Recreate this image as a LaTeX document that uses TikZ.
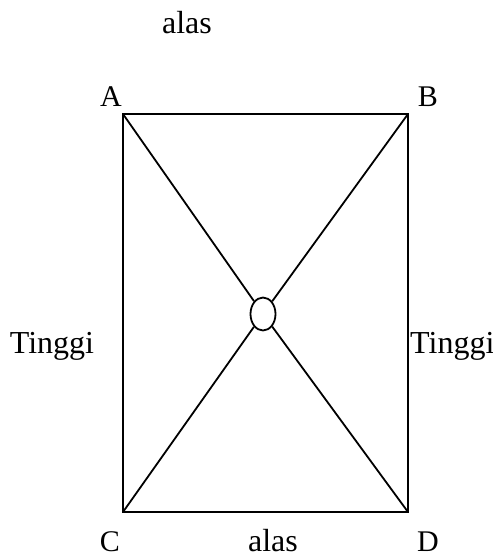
\documentclass[tikz,border=0pt]{standalone}
\usepackage{fontspec}
\setmainfont{Liberation Serif}
\usetikzlibrary{shapes.geometric}
\begin{document}
\begin{tikzpicture}[x=1pt,y=-1pt,
  edge/.style={line width=1.8pt},
  lbl/.style={font=\fontsize{30}{30}\selectfont, anchor=base, inner sep=0pt},
  txt/.style={font=\fontsize{32}{32}\selectfont, anchor=base, inner sep=0pt}]
\useasboundingbox (0,0) rectangle (493,558);
\coordinate (A) at (123,114);
\coordinate (B) at (408,114);
\coordinate (C) at (123,512);
\coordinate (D) at (408,512);
\node[ellipse, draw, line width=1.8pt, fill=white, inner sep=0pt, minimum width=25pt, minimum height=33pt] (O) at (263,314) {};
\draw[edge] (A) -- (B) -- (D) -- (C) -- cycle;
\draw[edge] (A) -- (O);
\draw[edge] (B) -- (O);
\draw[edge] (C) -- (O);
\draw[edge] (D) -- (O);
\node[txt] (t1) at (187,33) {alas};
\node[lbl] (la) at (111,106) {A};
\node[lbl] (lb) at (428,106) {B};
\node[txt] (t2) at (52,353) {Tinggi};
\node[txt, anchor=base west] (t3) at (410,353) {Tinggi};
\node[lbl] (lc) at (110,551) {C};
\node[txt] (t4) at (273,551) {alas};
\node[lbl] (ld) at (428,551) {D};
\end{tikzpicture}
\end{document}
